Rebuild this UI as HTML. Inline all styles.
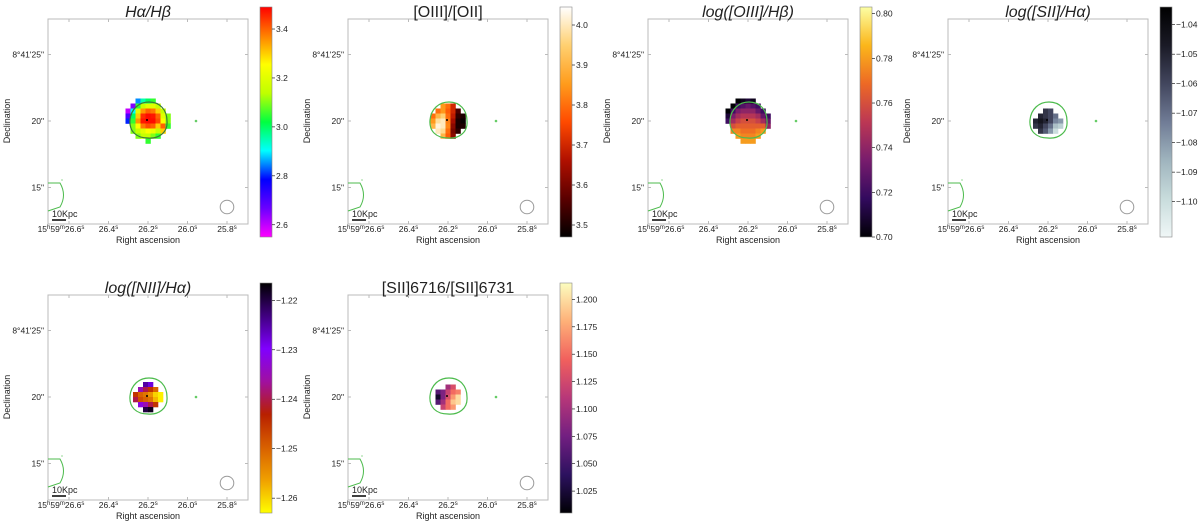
<!DOCTYPE html>
<html><head><meta charset="utf-8"><style>
body{margin:0;background:#fff;width:1200px;height:525px;overflow:hidden;font-family:"Liberation Sans",sans-serif}
svg text{font-family:"Liberation Sans","DejaVu Sans",sans-serif;fill:#222}
</style></head><body>
<svg id="fig" width="1200" height="525" viewBox="0 0 1200 525"></svg>
<script>
// ---- data ----
const titles=["H\u03b1/H\u03b2","[OIII]/[OII]","log([OIII]/H\u03b2)","log([SII]/H\u03b1)","log([NII]/H\u03b1)","[SII]6716/[SII]6731"];
const titleItalic=[true,false,true,true,true,false];
const ranges=[[2.55,3.49],[3.47,4.045],[0.700,0.803],[-1.112,-1.034],[-1.263,-1.2165],[1.005,1.215]];
const cbTicks=[[2.6,2.8,3.0,3.2,3.4],[3.5,3.6,3.7,3.8,3.9,4.0],[0.70,0.72,0.74,0.76,0.78,0.80],[-1.04,-1.05,-1.06,-1.07,-1.08,-1.09,-1.10],[-1.22,-1.23,-1.24,-1.25,-1.26],[1.025,1.05,1.075,1.1,1.125,1.15,1.175,1.2]];
const cbDigits=[1,1,2,2,2,3];
const raTicks=[26.6,26.4,26.2,26.0,25.8];
const raLabels=["15h59m26.6s","26.4s","26.2s","26.0s","25.8s"];
const decTicks=[25,20,15];
const decLabels=["8°41'25\"","20\"","15\""];
const grid1=[
[null,null,2.85,2.95,3.0,3.05,null,null,null],
[null,2.65,3.05,3.15,3.2,3.2,3.15,null,null],
[2.6,2.9,3.2,3.35,3.4,3.38,3.3,3.15,null],
[2.7,3.0,3.3,3.45,3.48,3.47,3.4,3.2,3.1],
[2.8,3.05,3.35,3.47,3.48,3.48,3.42,3.25,3.1],
[null,3.1,3.25,3.38,3.42,3.4,3.3,3.4,3.05],
[null,3.1,3.15,3.2,3.25,3.22,3.15,3.3,null],
[null,null,3.1,3.15,3.15,3.1,3.05,null,null],
[null,null,null,null,3.05,null,null,null,null]];
const grid2=[
[null,null,3.85,3.8,3.7,null,null],
[null,3.8,3.85,3.78,3.7,3.55,null],
[3.8,3.9,3.95,3.8,3.68,3.52,3.5],
[3.85,3.98,4.0,3.82,3.65,3.5,3.48],
[3.9,4.02,4.0,3.83,3.62,3.5,3.5],
[null,4.0,3.97,3.8,3.6,3.52,null],
[null,null,3.9,3.78,3.62,null,null]];
const grid3=[
[null,null,0.70,0.705,0.71,0.705,null,null,null],
[null,0.70,0.72,0.725,0.73,0.725,0.72,null,null],
[0.70,0.72,0.735,0.74,0.74,0.74,0.73,0.72,null],
[0.71,0.735,0.745,0.75,0.75,0.75,0.745,0.73,0.72],
[0.72,0.745,0.755,0.76,0.76,0.76,0.755,0.745,0.73],
[null,0.76,0.765,0.765,0.765,0.765,0.765,0.765,0.74],
[null,0.775,0.775,0.77,0.77,0.77,0.775,0.78,null],
[null,null,0.78,0.775,0.775,0.775,0.78,null,null],
[null,null,null,0.78,0.78,0.78,null,null,null]];
const grid4=[
[null,null,-1.055,-1.06,null,null],
[null,-1.05,-1.055,-1.06,-1.07,null],
[-1.05,-1.045,-1.05,-1.06,-1.075,-1.08],
[-1.055,-1.05,-1.06,-1.07,-1.09,-1.095],
[null,-1.055,-1.065,-1.08,-1.10,null]];
const grid5=[
[null,null,-1.225,-1.228,null,null],
[null,-1.235,-1.24,-1.245,-1.25,null],
[-1.245,-1.25,-1.252,-1.255,-1.26,-1.262],
[-1.24,-1.248,-1.25,-1.252,-1.258,-1.262],
[null,-1.232,-1.235,-1.24,-1.245,null],
[null,null,-1.22,-1.218,null,null]];
const grid6=[
[null,null,1.1,1.13,null],
[1.06,1.08,1.12,1.15,1.16],
[1.02,1.08,1.13,1.17,1.2],
[1.06,1.1,1.15,1.19,1.2],
[null,1.12,1.15,1.17,null]];
const grids=[grid1,grid2,grid3,grid4,grid5,grid6];
const cmaps=[
["#ff00ff","#6a00ff","#0000ff","#00ffff","#00ff40","#bfff00","#ffff00","#ff8000","#ff0000"],
["#000000","#5a0000","#b01000","#ff4a00","#ff9c1c","#ffd070","#ffffff"],
["#000004","#320a5e","#781c6d","#bc3754","#ed6925","#fbb61a","#fcffa4"],
["#f0f7f7","#c8dcdc","#9fb4be","#707c96","#42465e","#1a1a26","#000000"],
["#ffff00","#f0a000","#d86000","#b82000","#a010a0","#8000ff","#400080","#000000"],
["#000004","#2c115f","#721f81","#b73779","#f1605d","#feb078","#fcfdbf"]];
// ---- layout ----
const offs=[[0,0],[300,0],[600,0],[900,0],[0,276],[300,276]];
const AX=48,AY=19,AW=200,AH=205;
const CX=148,CY=121;
const svg=document.getElementById('fig');
const NS='http://www.w3.org/2000/svg';
function mk(tag,attrs,parent){const e=document.createElementNS(NS,tag);for(const k in attrs)e.setAttribute(k,attrs[k]);parent.appendChild(e);return e;}
function hex(h){return [parseInt(h.substr(1,2),16),parseInt(h.substr(3,2),16),parseInt(h.substr(5,2),16)];}
function cmap(stops,t){t=Math.max(0,Math.min(1,t));const n=stops.length-1;const i=Math.min(n-1,Math.floor(t*n));const f=t*n-i;const a=hex(stops[i]),b=hex(stops[i+1]);return 'rgb('+a.map((v,k)=>Math.round(v+(b[k]-v)*f)).join(',')+')';}
function xRA(ra){return CX+(26.2-ra)*197.5;}
function yDec(d){return CY+(20-d)*13.3;}
titles.forEach((ttl,p)=>{
  const [ox,oy]=offs[p];
  const g=mk('g',{transform:`translate(${ox},${oy})`},svg);
  
  
  const box=mk('rect',{x:AX,y:AY,width:AW,height:AH,fill:'#fff',stroke:'#bbb','stroke-width':1},g);
  
  
  const t=mk('text',{x:148,y:17,'text-anchor':'middle','font-size':16,'font-style':titleItalic[p]?'italic':'normal'},g);
  t.textContent=ttl;
  
  
  const grid=grids[p],[lo,hi]=ranges[p];const cs=5;
  const rows=grid.length,cols=grid[0].length;
  grid.forEach((row,r)=>row.forEach((v,c)=>{
    if(v===null)return;
    const cell=mk('rect',{x:CX-cols*cs/2+c*cs,y:CY-rows*cs/2+r*cs,width:cs+0.3,height:cs+0.3,fill:cmap(cmaps[p],(v-lo)/(hi-lo))},g);
    
    
  }));
  const dot=mk('circle',{cx:CX-1,cy:CY-1,r:1,fill:'#000'},g);
  
  
  const ct=mk('path',{d:'M149 102 C160 102 167 110 167 121 C168 133 158 139 148 138 C136 138 129 131 130 120 C131 109 139 102 149 102 Z',fill:'none',stroke:p===0?'#3a7a3a':'#4cbb4c','stroke-width':1.2},g);
  
  
  const gd=mk('circle',{cx:196,cy:121,r:1.3,fill:'#6c6'},g);
  
  
  const br=mk('path',{d:'M48 183 L60 183 Q67 195 60 207 L48 211',fill:'none',stroke:'#4cbb4c','stroke-width':1},g);
  
  
  mk('circle',{cx:62,cy:180,r:0.6,fill:'#4cbb4c'},g);
  const beam=mk('circle',{cx:227,cy:207,r:6.8,fill:'none',stroke:'#999','stroke-width':1},g);
  
  
  const sb=mk('line',{x1:52,x2:66,y1:220,y2:220,stroke:'#000','stroke-width':1.5},g);
  
  
  const sbt=mk('text',{x:52,y:217,'font-size':9},g);sbt.textContent='10Kpc';
  
  
  raTicks.forEach((ra,i)=>{
    const x=xRA(ra);
    mk('line',{x1:x,x2:x,y1:AY+AH,y2:AY+AH-3,stroke:'#bbb'},g);
    mk('line',{x1:x,x2:x,y1:AY,y2:AY+3,stroke:'#bbb'},g);
    const tl=mk('text',{x:i===0?x-8:x,y:232,'text-anchor':'middle','font-size':8.5},g);
    if(i===0){tl.innerHTML='15<tspan font-size="6" dy="-3">h</tspan><tspan dy="3">59</tspan><tspan font-size="6" dy="-3">m</tspan><tspan dy="3">26.6</tspan><tspan font-size="6" dy="-3">s</tspan>';}
    else{tl.innerHTML=raLabels[i].slice(0,-1)+'<tspan font-size="6" dy="-3">s</tspan>';}
    
    
  });
  decTicks.forEach((d,i)=>{
    const y=yDec(d);
    mk('line',{x1:AX,x2:AX+3,y1:y,y2:y,stroke:'#bbb'},g);
    mk('line',{x1:AX+AW,x2:AX+AW-3,y1:y,y2:y,stroke:'#bbb'},g);
    const tl=mk('text',{x:44,y:y+3,'text-anchor':'end','font-size':8.5},g);
    tl.textContent=decLabels[i];
    
    
  });
  const xl=mk('text',{x:148,y:243,'text-anchor':'middle','font-size':9},g);xl.textContent='Right ascension';
  
  
  const yl=mk('text',{x:0,y:0,'text-anchor':'middle','font-size':9,transform:'translate(10,121) rotate(-90)'},g);yl.textContent='Declination';
  
  
  const cbx=260,cby0=7,cby1=237,cbw=12;
  const gid='cg'+p;
  const defs=mk('defs',{},g);
  const lg=mk('linearGradient',{id:gid,x1:0,y1:1,x2:0,y2:0},defs);
  cmaps[p].forEach((c,i)=>mk('stop',{offset:i/(cmaps[p].length-1),'stop-color':c},lg));
  const cb=mk('rect',{x:cbx,y:cby0,width:cbw,height:cby1-cby0,fill:`url(#${gid})`,stroke:'#888','stroke-width':0.6},g);
  
  
  cbTicks[p].forEach(v=>{
    const y=cby1-(v-lo)/(hi-lo)*(cby1-cby0);
    mk('line',{x1:cbx+cbw,x2:cbx+cbw+3,y1:y,y2:y,stroke:'#000','stroke-width':0.6},g);
    const tl=mk('text',{x:cbx+cbw+4,y:y+3,'font-size':8.5},g);
    tl.textContent=v.toFixed(cbDigits[p]).replace('-','\u2212');
    
    
  });
});
</script>
</body></html>
